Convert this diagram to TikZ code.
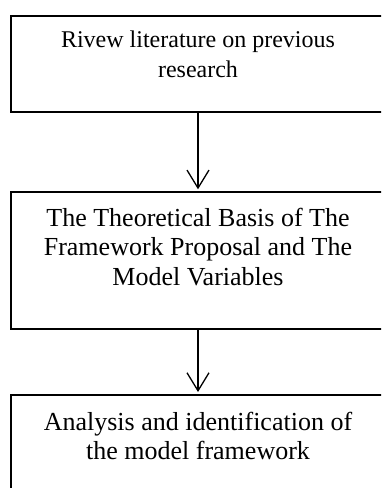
\documentclass[tikz,border=0pt]{standalone}
\usepackage{fontspec}
\setmainfont{Liberation Serif}
\usetikzlibrary{arrows.meta}
\tikzset{
  box/.style={draw=black, line width=2pt, minimum width=375pt, inner sep=0pt},
  txt/.style={anchor=north, align=center, inner sep=0pt},
  arr/.style={line width=1.3pt, -{Straight Barb[length=18pt,width=22pt]}, shorten >=2pt}
}
\begin{document}
\begin{tikzpicture}[x=1pt,y=-1pt]
\useasboundingbox (0,0) rectangle (381,488);
\clip (0,0) rectangle (381,488);
\node[box, minimum height=96pt] (b1) at (198,63.7) {};
\node[box, minimum height=136.4pt] (b2) at (198,260.5) {};
\node[box, minimum height=120pt] (b3) at (198,455) {};
\node[txt, font=\fontsize{24}{29.5}\selectfont] (t1) at ([yshift=-13pt]b1.north) {\rule{0pt}{20pt}Rivew literature on previous\\research};
\node[txt, font=\fontsize{26}{29.5}\selectfont] (t2) at ([yshift=-14.7pt]b2.north) {\rule{0pt}{20pt}The Theoretical Basis of The\\Framework Proposal and The\\Model Variables};
\node[txt, font=\fontsize{26}{29}\selectfont] (t3) at ([yshift=-16pt]b3.north) {\rule{0pt}{20pt}Analysis and identification of\\the model framework};
\draw[arr] (b1.south) -- (b2.north);
\draw[arr] (b2.south) -- (b3.north);
\end{tikzpicture}
\end{document}
